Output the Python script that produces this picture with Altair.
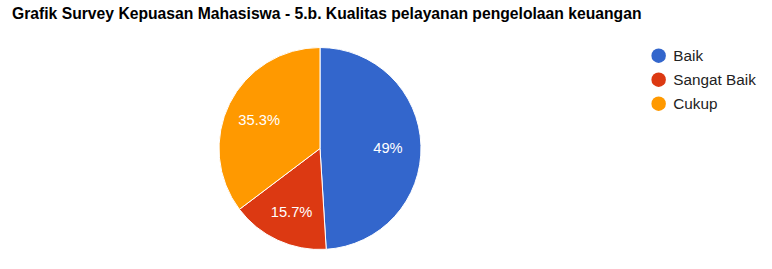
import altair as alt
import pandas as pd

categories = ["Baik", "Sangat Baik", "Cukup"]
counts = [25, 8, 18]
labels = ["49%", "15.7%", "35.3%"]
colors = ["#3366cc", "#dc3912", "#ff9900"]

df = pd.DataFrame({"kategori": categories, "jumlah": counts, "label": labels,
                   "urut": list(range(len(categories)))})

FONT = "Arial, Liberation Sans, sans-serif"
CX, CY, R = 320, 118.5, 101

base = alt.Chart(df).encode(
    theta=alt.Theta("jumlah:Q", stack=True),
    order=alt.Order("urut:Q"),
)

arcs = base.mark_arc(outerRadius=R, stroke="white", strokeWidth=1).encode(
    x=alt.value(CX), y=alt.value(CY),
    color=alt.Color("kategori:N",
                    scale=alt.Scale(domain=categories, range=colors),
                    sort=categories,
                    legend=alt.Legend(title=None, orient="none", legendX=651, legendY=18,
                                      symbolType="circle", symbolSize=210, symbolStrokeWidth=0,
                                      labelFontSize=15.3, labelFont=FONT, labelColor="#222222",
                                      rowPadding=8, labelOffset=7)),
)

texts = base.mark_text(radius=68, fontSize=14.7, font=FONT, color="white", dy=3).encode(
    x=alt.value(CX), y=alt.value(CY),
    text="label:N",
)

chart = alt.layer(arcs, texts).properties(
    width=772, height=239,
    padding={"left": 0, "top": 30, "right": 0, "bottom": 0},
    autosize=alt.AutoSizeParams(type="none"),
    title=alt.TitleParams("Grafik Survey Kepuasan Mahasiswa - 5.b. Kualitas pelayanan pengelolaan keuangan",
                          anchor="start", font=FONT, fontSize=15.7, fontWeight="bold",
                          color="#000000", baseline="alphabetic", offset=8, dx=12, dy=13),
).configure_view(stroke=None)

chart.save("out.html", embed_options={"renderer": "svg", "actions": False})
